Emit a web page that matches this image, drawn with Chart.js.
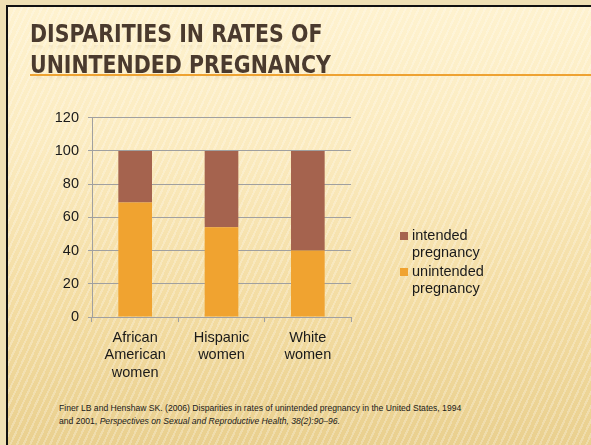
<!DOCTYPE html>
<html>
<head>
<meta charset="utf-8">
<script src="https://cdn.jsdelivr.net/npm/chart.js@4.4.0/dist/chart.umd.min.js"></script>
<style>
  html, body { margin: 0; padding: 0; }
  body { width: 591px; height: 445px; overflow: hidden; background: #efe0b4; position: relative; }
  .slide {
    position: absolute; left: 6px; top: 5px; width: 600px; height: 460px;
    border-left: 2px solid #111; border-top: 2px solid #111;
    background:
      repeating-linear-gradient(115deg, rgba(255,255,255,0.25) 0 2px, rgba(255,255,255,0) 2px 6px),
      linear-gradient(180deg, #fef2cf 0%, #fbebc0 30%, #f3dca2 65%, #e8ce8c 100%);
  }
  .title {
    position: absolute; left: 30px;
    font-family: "DejaVu Sans Condensed", "DejaVu Sans", sans-serif;
    font-weight: bold; font-size: 24px; line-height: 28px; color: #4a3a2e;
    transform: scaleX(0.95); transform-origin: 0 0; white-space: nowrap;
    -webkit-box-reflect: below -9px linear-gradient(transparent 60%, rgba(255,255,255,0.14));
  }
  .rule { position: absolute; left: 30px; top: 74px; width: 570px; height: 2px; background: #eea232; }
  .chart { position: absolute; left: 30px; top: 100px; width: 530px; height: 290px; }
  .cite {
    position: absolute; left: 59px; top: 402px;
    font-family: "Liberation Sans", Arial, sans-serif; font-size: 8.6px; line-height: 13px; color: #1a1a1a;
  }
</style>
</head>
<body>
<div class="slide"></div>
<div class="title" style="top:20px">DISPARITIES IN RATES OF</div>
<div class="rule"></div>
<div class="title" style="top:51px">UNINTENDED PREGNANCY</div>
<div class="chart"><canvas id="bars" width="530" height="290"></canvas></div>
<div class="cite">Finer LB and Henshaw SK. (2006) Disparities in rates of unintended pregnancy in the United States, 1994<br>and 2001, <i>Perspectives on Sexual and Reproductive Health, 38(2):90–96.</i></div>
<script>
const categories = [["African", "American", "women"], ["Hispanic", "women"], ["White", "women"]];
const unintended = [69, 54, 40];
const intended = [31, 46, 60];
const seriesNames = [["intended", "pregnancy"], ["unintended", "pregnancy"]];
const yTicks = [0, 20, 40, 60, 80, 100, 120];

const orange = "#f0a330";
const brown = "#a5634e";
const tickFont = { family: "'Liberation Sans', Arial, sans-serif", size: 14.5, lineHeight: 1.2 };

// legend drawn by hand so the labels can wrap like the original
const sideLegend = {
  id: "sideLegend",
  afterDraw(chart) {
    const ctx = chart.ctx;
    const items = [
      { name: seriesNames[0], color: brown },
      { name: seriesNames[1], color: orange },
    ];
    ctx.save();
    ctx.font = "14.5px 'Liberation Sans', Arial, sans-serif";
    ctx.textBaseline = "middle";
    let y = 136;
    items.forEach((item) => {
      ctx.fillStyle = item.color;
      ctx.fillRect(370, y - 4, 8, 8);
      ctx.fillStyle = "#1a1a1a";
      item.name.forEach((line, i) => {
        ctx.fillText(line, 382, y + i * 17);
      });
      y += 36;
    });
    ctx.restore();
  },
};

new Chart(document.getElementById("bars").getContext("2d"), {
  type: "bar",
  data: {
    labels: categories,
    datasets: [
      { label: "unintended pregnancy", data: unintended, backgroundColor: orange },
      { label: "intended pregnancy", data: intended, backgroundColor: brown },
    ],
  },
  options: {
    responsive: false,
    animation: false,
    layout: { padding: { top: 8, right: 209, left: 0, bottom: 0 } },
    plugins: { legend: { display: false }, tooltip: { enabled: false } },
    datasets: { bar: { categoryPercentage: 1, barPercentage: 0.39 } },
    scales: {
      x: {
        stacked: true,
        border: { color: "#a0a0a0", width: 1 },
        grid: { drawOnChartArea: false, drawTicks: true, tickLength: 5, color: "#a0a0a0" },
        ticks: { font: tickFont, color: "#1a1a1a", padding: 7, maxRotation: 0 },
        afterFit(scale) { scale.height = 73; },
      },
      y: {
        stacked: true,
        min: 0,
        max: 120,
        afterBuildTicks(scale) { scale.ticks = yTicks.map((v) => ({ value: v })); },
        border: { color: "#a0a0a0", width: 1 },
        grid: { color: "#a0a0a0", tickLength: 4 },
        ticks: { font: tickFont, color: "#1a1a1a", padding: 9 },
        afterFit(scale) { scale.width = 62; },
      },
    },
  },
  plugins: [sideLegend],
});
</script>
</body>
</html>
